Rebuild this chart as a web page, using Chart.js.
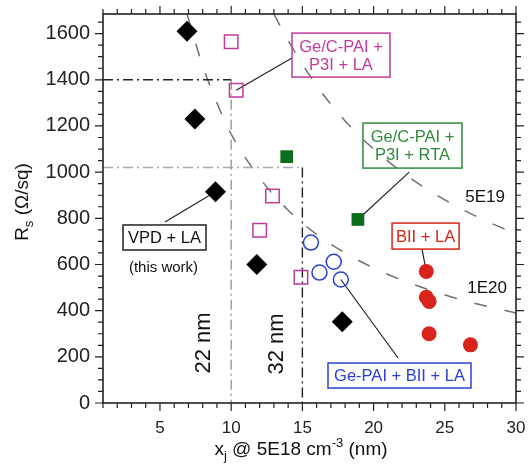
<!DOCTYPE html>
<html>
<head>
<title>Rs vs junction depth</title>
<script src="https://cdn.jsdelivr.net/npm/chart.js"></script>
<style>body{margin:0;background:#fff}</style>
</head>
<body>
<canvas id="rs-chart" width="529" height="475"></canvas>
<script>
// axis ticks
const xTicks = [5, 10, 15, 20, 25, 30];
const yTicks = [0, 200, 400, 600, 800, 1000, 1200, 1400, 1600];

// measured points: x = xj @ 5E18 (nm), y = Rs (ohm/sq)
const vpdLA      = [{x:6.9,y:1610},{x:7.45,y:1230},{x:8.9,y:915},{x:11.8,y:600},{x:17.8,y:352}];
const gecP3iLA   = [{x:10.0,y:1565},{x:10.35,y:1355},{x:12.9,y:897},{x:12.0,y:748},{x:14.9,y:545}];
const gecP3iRTA  = [{x:13.9,y:1067},{x:18.9,y:795}];
const gePaiBiiLA = [{x:15.6,y:695},{x:16.2,y:565},{x:17.2,y:612},{x:17.7,y:535}];
const biiLA      = [{x:23.7,y:570},{x:23.7,y:458},{x:23.9,y:440},{x:23.9,y:300},{x:26.8,y:252}];

// iso-concentration curves
const curve1E20 = [{x:6.9,y:1685},{x:8,y:1460},{x:9,y:1300},{x:10,y:1165},{x:12,y:975},{x:14,y:835},
                   {x:16,y:730},{x:18,y:650},{x:20,y:585},{x:22,y:532},{x:24,y:488},{x:26,y:450},{x:28,y:418},{x:30,y:390}];
const curve5E19 = [{x:13,y:1685},{x:14,y:1570},{x:16,y:1375},{x:18,y:1222},{x:20,y:1100},{x:22,y:1000},
                   {x:24,y:917},{x:26,y:846},{x:28,y:786},{x:30,y:733}];

// 22 nm / 32 nm node guides
const guide22h = [{x:1,y:1400},{x:10,y:1400}];
const guide22v = [{x:10,y:1400},{x:10,y:0}];
const guide32h = [{x:1,y:1020},{x:15,y:1020}];
const guide32v = [{x:15,y:1020},{x:15,y:0}];

const FONT = '"Liberation Sans", Arial, Helvetica, sans-serif';
const MAGENTA = '#c23a9c', GREEN = '#0c6e1c', BLUE = '#2b41d4', RED = '#d8241a';

// label boxes, centre in data units, size in px
const boxes = [
    {x:17.71, y:1507, w:98, h:44, lines:['Ge/C-PAI +','P3I + LA'], color:MAGENTA, text:MAGENTA, from:{x:14.27,y:1494}, to:gecP3iLA[1]},
    {x:22.73, y:1115, w:99, h:45, lines:['Ge/C-PAI +','P3I + RTA'], color:'#2f8a3c', text:'#2f8a3c', from:{x:22.5,y:1000}, to:gecP3iRTA[1]},
    {x:23.65, y:723, w:67, h:26, lines:['BII + LA'], color:RED, text:RED, from:{x:23.4,y:667}, to:biiLA[0]},
    {x:21.82, y:119, w:143, h:25, lines:['Ge-PAI + BII + LA'], color:BLUE, text:BLUE, from:{x:21.72,y:195}, to:gePaiBiiLA[3]},
    {x:5.32, y:717, w:83, h:25, lines:['VPD + LA'], color:'#222', text:'#111', from:{x:5.35,y:784}, to:vpdLA[2]}
];
const notes = [
    {x:5.25, y:585, text:'(this work)', size:15, rot:false},
    {x:27.83, y:892, text:'5E19', size:17, rot:false},
    {x:27.97, y:498, text:'1E20', size:17, rot:false},
    {x:8.09, y:260, text:'22 nm', size:22, rot:true},
    {x:13.22, y:256, text:'32 nm', size:22, rot:true}
];

const extras = {
    id: 'extras',
    beforeDatasetsDraw(chart) {
        const ctx = chart.ctx;
        const xs = chart.scales.x, ys = chart.scales.y;
        ctx.save();
        ctx.strokeStyle = '#222';
        ctx.lineWidth = 1.2;
        boxes.forEach(b => {
            ctx.beginPath();
            ctx.moveTo(xs.getPixelForValue(b.from.x), ys.getPixelForValue(b.from.y));
            ctx.lineTo(xs.getPixelForValue(b.to.x), ys.getPixelForValue(b.to.y));
            ctx.stroke();
        });
        ctx.restore();
    },
    afterDatasetsDraw(chart) {
        const ctx = chart.ctx, a = chart.chartArea;
        const xs = chart.scales.x, ys = chart.scales.y;
        ctx.save();
        // frame
        ctx.strokeStyle = '#222';
        ctx.lineWidth = 1.6;
        ctx.strokeRect(a.left, a.top, a.right - a.left, a.bottom - a.top);
        // ticks, outward on all four sides
        ctx.lineWidth = 1.2;
        ctx.beginPath();
        for (let v = Math.ceil(xs.min); v <= xs.max; v++) {
            const p = xs.getPixelForValue(v);
            const len = xTicks.includes(v) ? 8 : 5;
            ctx.moveTo(p, a.bottom); ctx.lineTo(p, a.bottom + len);
            ctx.moveTo(p, a.top); ctx.lineTo(p, a.top - len);
        }
        for (let v = 0; v <= ys.max; v += 50) {
            const p = ys.getPixelForValue(v);
            const len = yTicks.includes(v) ? 8 : 5;
            ctx.moveTo(a.left, p); ctx.lineTo(a.left - len, p);
            ctx.moveTo(a.right, p); ctx.lineTo(a.right + len, p);
        }
        ctx.stroke();

        // boxes (transparent, curves show through)
        boxes.forEach(b => {
            const cx = xs.getPixelForValue(b.x), cy = ys.getPixelForValue(b.y);
            ctx.strokeStyle = b.color;
            ctx.lineWidth = 1.5;
            ctx.strokeRect(cx - b.w / 2, cy - b.h / 2, b.w, b.h);
            ctx.fillStyle = b.text;
            ctx.font = '16.5px ' + FONT;
            ctx.textAlign = 'center';
            ctx.textBaseline = 'middle';
            const lh = 18;
            b.lines.forEach((t, i) => {
                ctx.fillText(t, cx, cy + (i - (b.lines.length - 1) / 2) * lh + 1);
            });
        });

        // free text
        notes.forEach(n => {
            const px = xs.getPixelForValue(n.x), py = ys.getPixelForValue(n.y);
            ctx.save();
            ctx.translate(px, py);
            if (n.rot) ctx.rotate(-Math.PI / 2);
            ctx.fillStyle = '#111';
            ctx.font = n.size + 'px ' + FONT;
            ctx.textAlign = 'center';
            ctx.textBaseline = 'middle';
            ctx.fillText(n.text, 0, 0);
            ctx.restore();
        });
        ctx.restore();
    },
    afterDraw(chart) {
        const ctx = chart.ctx;
        ctx.save();
        ctx.fillStyle = '#111';
        ctx.textBaseline = 'alphabetic';
        ctx.textAlign = 'left';
        // y title: R_s (Ω/sq)
        const big = '19px ' + FONT, small = '13px ' + FONT;
        ctx.font = big; const wR = ctx.measureText('R').width; const wRest = ctx.measureText(' (Ω/sq)').width;
        ctx.font = small; const wS = ctx.measureText('s').width;
        const totY = wR + wS + wRest;
        ctx.translate(28, 202);
        ctx.rotate(-Math.PI / 2);
        let x0 = -totY / 2;
        ctx.font = big; ctx.fillText('R', x0, 0); x0 += wR;
        ctx.font = small; ctx.fillText('s', x0, 5); x0 += wS;
        ctx.font = big; ctx.fillText(' (Ω/sq)', x0, 0);
        ctx.restore();

        // x title: x_j @ 5E18 cm^-3 (nm)
        ctx.save();
        ctx.fillStyle = '#111';
        ctx.textBaseline = 'alphabetic';
        ctx.textAlign = 'left';
        const parts = [
            {t:'x', f:big, dy:0}, {t:'j', f:small, dy:5}, {t:' @ 5E18 cm', f:big, dy:0},
            {t:'-3', f:small, dy:-8}, {t:' (nm)', f:big, dy:0}
        ];
        let tot = 0;
        parts.forEach(p => { ctx.font = p.f; p.w = ctx.measureText(p.t).width; tot += p.w; });
        let x = 301 - tot / 2;
        parts.forEach(p => { ctx.font = p.f; ctx.fillText(p.t, x, 455 + p.dy); x += p.w; });
        ctx.restore();
    }
};

const dashCurve = (data) => ({
    type: 'line', data: data, borderColor: '#707070', borderWidth: 1.5, borderDash: [13, 18],
    pointRadius: 0, cubicInterpolationMode: 'monotone', fill: false, order: 10
});
const guide = (data, color) => ({
    type: 'line', data: data, borderColor: color, borderWidth: 1.4, borderDash: [10, 4, 2, 4],
    pointRadius: 0, tension: 0, fill: false, order: 9
});

new Chart(document.getElementById('rs-chart').getContext('2d'), {
    type: 'scatter',
    data: {
        datasets: [
            dashCurve(curve1E20),
            dashCurve(curve5E19),
            guide(guide22h, '#222'),
            guide(guide22v, '#999'),
            guide(guide32h, '#aaa'),
            guide(guide32v, '#222'),
            {label: 'VPD + LA', data: vpdLA, pointStyle: 'rectRot', pointRadius: 10.5, backgroundColor: '#000', borderColor: '#000', borderWidth: 0, order: 1},
            {label: 'Ge/C-PAI + P3I + LA', data: gecP3iLA, pointStyle: 'rect', pointRadius: 9.5, backgroundColor: 'rgba(255,255,255,0)', borderColor: MAGENTA, borderWidth: 1.5, order: 1},
            {label: 'Ge/C-PAI + P3I + RTA', data: gecP3iRTA, pointStyle: 'rect', pointRadius: 9, backgroundColor: GREEN, borderColor: GREEN, borderWidth: 0, order: 1},
            {label: 'Ge-PAI + BII + LA', data: gePaiBiiLA, pointStyle: 'circle', pointRadius: 7.5, backgroundColor: 'rgba(255,255,255,0)', borderColor: BLUE, borderWidth: 1.5, order: 1},
            {label: 'BII + LA', data: biiLA, pointStyle: 'circle', pointRadius: 7.5, backgroundColor: RED, borderColor: RED, borderWidth: 0, order: 1}
        ]
    },
    options: {
        responsive: false,
        animation: false,
        layout: { padding: { top: 14, right: 13, left: 0, bottom: 0 } },
        plugins: { legend: { display: false }, tooltip: { enabled: false } },
        scales: {
            x: {
                type: 'linear', min: 1, max: 30,
                afterBuildTicks: s => { s.ticks = xTicks.map(v => ({value: v})); },
                afterFit: s => { s.height = 72; s.paddingLeft = 0; s.paddingRight = 0; },
                grid: { display: false, drawTicks: false },
                border: { display: false },
                ticks: { color: '#222', padding: 15, maxRotation: 0, autoSkip: false, font: { family: FONT, size: 17 },
                         callback: v => String(v) }
            },
            y: {
                type: 'linear', min: 0, max: 1685,
                afterBuildTicks: s => { s.ticks = yTicks.map(v => ({value: v})); },
                afterFit: s => { s.width = 103; s.paddingTop = 0; s.paddingBottom = 0; },
                grid: { display: false, drawTicks: false },
                border: { display: false },
                ticks: { color: '#222', padding: 13, font: { family: FONT, size: 20 },
                         callback: v => String(v) }
            }
        }
    },
    plugins: [extras]
});
</script>
</body>
</html>
